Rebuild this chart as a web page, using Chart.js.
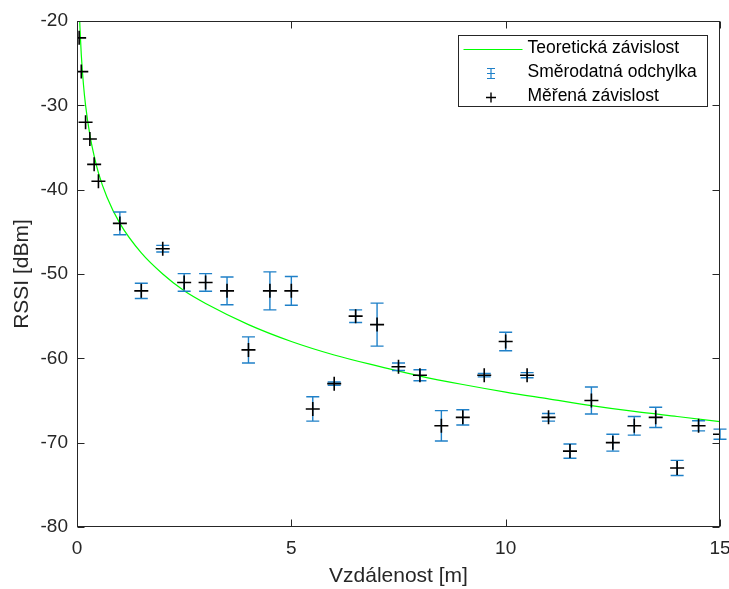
<!DOCTYPE html>
<html>
<head>
<meta charset="utf-8">
<script src="https://cdn.jsdelivr.net/npm/chart.js@4.4.0/dist/chart.umd.min.js"></script>
<style>
  html, body { margin: 0; padding: 0; background: #fff; }
  #wrap { width: 729px; height: 589px; }
</style>
</head>
<body>
<div id="wrap"><canvas id="rssiChart" width="729" height="589"></canvas></div>
<script>
// measured distances [m]
const distances = [0.05, 0.1, 0.2, 0.3, 0.4, 0.5, 1, 1.5, 2, 2.5, 3, 3.5, 4, 4.5, 5, 5.5, 6, 6.5, 7, 7.5,
    8, 8.5, 9, 9.5, 10, 10.5, 11, 11.5, 12, 12.5, 13, 13.5, 14, 14.5, 15];
// mean RSSI at each distance [dBm]
const rssiMeasured = [-22, -26, -32, -34, -37, -39, -44, -52, -47, -51, -51, -52, -59, -52, -52, -66, -63, -55, -56, -61,
    -62, -68, -67, -62, -58, -62, -67, -71, -65, -70, -68, -67, -73, -68, -69];
// standard deviation of the RSSI (error bars)
const rssiStd = [0, 0, 0, 0, 0, 0, 1.35, 0.9, 0.4, 1.05, 1.05, 1.65, 1.55, 2.25, 1.7, 1.45, 0.2, 0.75, 2.55, 0.45,
    0.65, 1.8, 0.9, 0.2, 1.1, 0.3, 0.45, 0.85, 1.6, 1.0, 1.1, 1.2, 0.9, 0.6, 0.6];

// theoretical curve
const theoryDistance = [0.063, 0.07, 0.1, 0.15, 0.2, 0.3, 0.4, 0.5, 0.7, 1, 1.5, 2, 2.5, 3, 4, 5, 6, 7, 8, 9, 10, 11, 12, 13, 14, 15];
const theoryRssi = [-20, -20.9, -24, -27.5, -30, -33.5, -36, -38, -40.9, -44, -47.5, -50, -52, -53.5, -56, -58, -59.6,
    -60.9, -62.1, -63.1, -64, -64.8, -65.6, -66.3, -66.9, -67.5];

// tick labels
const xTickValues = [0, 5, 10, 15];
const yTickValues = [-80, -70, -60, -50, -40, -30, -20];

// legend names
const theoryLabel = 'Teoretická závislost';
const stdLabel = 'Směrodatná odchylka';
const measuredLabel = 'Měřená závislost';

const axisColor = '#262626';
const stdColor = '#1f80c8';
const theoryColor = '#00ff00';

Chart.defaults.font.family = '"Liberation Sans", Arial, Helvetica, sans-serif';

//draws the blue error bars just before the crosses
const errorBarPlugin = {
    id: 'errorBars',
    beforeDatasetDraw(chart, args) {
        if (args.index !== 1) return;
        const ctx = chart.ctx;
        const x = chart.scales.x;
        const y = chart.scales.y;
        ctx.save();
        ctx.strokeStyle = stdColor;
        ctx.lineWidth = 1.4;
        distances.forEach((d, i) => {
            const s = rssiStd[i];
            if (!s) return;
            const px = x.getPixelForValue(d);
            const top = y.getPixelForValue(rssiMeasured[i] + s);
            const bot = y.getPixelForValue(rssiMeasured[i] - s);
            ctx.beginPath();
            ctx.moveTo(px, top);
            ctx.lineTo(px, bot);
            ctx.moveTo(px - 6.5, top);
            ctx.lineTo(px + 6.5, top);
            ctx.moveTo(px - 6.5, bot);
            ctx.lineTo(px + 6.5, bot);
            ctx.stroke();
        });
        ctx.restore();
    }
};

//matlab style box with ticks pointing inside
const axesBoxPlugin = {
    id: 'axesBox',
    afterDatasetsDraw(chart) {
        const ctx = chart.ctx;
        const area = chart.chartArea;
        const x = chart.scales.x;
        const y = chart.scales.y;
        const l = Math.round(area.left) + 0.5;
        const r = Math.round(area.right) - 0.5;
        const t = Math.round(area.top) + 0.5;
        const b = Math.round(area.bottom) - 0.5;
        ctx.save();
        ctx.strokeStyle = axisColor;
        ctx.lineWidth = 1;
        ctx.strokeRect(l, t, r - l, b - t);
        ctx.beginPath();
        xTickValues.forEach(v => {
            const px = Math.round(x.getPixelForValue(v)) + 0.5;
            ctx.moveTo(px, b);
            ctx.lineTo(px, b - 7);
            ctx.moveTo(px, t);
            ctx.lineTo(px, t + 7);
        });
        yTickValues.forEach(v => {
            const py = Math.round(y.getPixelForValue(v)) + 0.5;
            ctx.moveTo(l, py);
            ctx.lineTo(l + 7, py);
            ctx.moveTo(r, py);
            ctx.lineTo(r - 7, py);
        });
        ctx.stroke();
        ctx.restore();
    }
};

//legend box in the top right corner
const legendBoxPlugin = {
    id: 'legendBox',
    afterDraw(chart) {
        const ctx = chart.ctx;
        const area = chart.chartArea;
        const boxR = Math.round(area.right) - 12.5;
        const boxL = boxR - 249;
        const boxT = Math.round(area.top) + 14.5;
        const rows = [boxT + 13, boxT + 37, boxT + 61];
        const iconX = boxL + 32.5;
        const textX = boxL + 69;

        ctx.save();
        ctx.fillStyle = '#fff';
        ctx.fillRect(boxL, boxT, boxR - boxL, 71);
        ctx.strokeStyle = axisColor;
        ctx.lineWidth = 1;
        ctx.strokeRect(boxL, boxT, boxR - boxL, 71);

        // green line
        ctx.strokeStyle = theoryColor;
        ctx.beginPath();
        ctx.moveTo(boxL + 5, Math.round(rows[0]) + 0.5);
        ctx.lineTo(boxL + 64, Math.round(rows[0]) + 0.5);
        ctx.stroke();

        // error bar icon
        const ey = Math.round(rows[1]) + 0.5;
        ctx.strokeStyle = stdColor;
        ctx.lineWidth = 1.2;
        ctx.beginPath();
        ctx.moveTo(iconX, ey - 5);
        ctx.lineTo(iconX, ey + 5);
        ctx.moveTo(iconX - 4, ey - 5);
        ctx.lineTo(iconX + 4, ey - 5);
        ctx.moveTo(iconX - 4, ey + 5);
        ctx.lineTo(iconX + 4, ey + 5);
        ctx.moveTo(iconX - 4, ey);
        ctx.lineTo(iconX + 4, ey);
        ctx.stroke();

        // cross icon
        const cy = Math.round(rows[2]) + 0.5;
        ctx.strokeStyle = '#000';
        ctx.lineWidth = 1.4;
        ctx.beginPath();
        ctx.moveTo(iconX - 5, cy);
        ctx.lineTo(iconX + 5, cy);
        ctx.moveTo(iconX, cy - 5);
        ctx.lineTo(iconX, cy + 5);
        ctx.stroke();

        ctx.fillStyle = '#000';
        ctx.font = '17.5px "Liberation Sans", Arial, sans-serif';
        ctx.textBaseline = 'middle';
        ctx.textAlign = 'left';
        ctx.fillText(theoryLabel, textX, rows[0]);
        ctx.fillText(stdLabel, textX, rows[1]);
        ctx.fillText(measuredLabel, textX, rows[2]);
        ctx.restore();
    }
};

const tickFont = { size: 19 };
const titleFont = { size: 21 };

new Chart(document.getElementById('rssiChart'), {
    type: 'scatter',
    data: {
        datasets: [{
            type: 'line',
            label: theoryLabel,
            data: theoryDistance.map((d, i) => ({ x: d, y: theoryRssi[i] })),
            borderColor: theoryColor,
            borderWidth: 1.2,
            pointRadius: 0,
            cubicInterpolationMode: 'monotone',
            fill: false,
            order: 2
        }, {
            label: measuredLabel,
            data: distances.map((d, i) => ({ x: d, y: rssiMeasured[i] })),
            pointStyle: 'cross',
            pointRadius: 7,
            borderColor: '#000',
            backgroundColor: '#000',
            borderWidth: 1.6,
            order: 1
        }]
    },
    options: {
        responsive: false,
        animation: false,
        devicePixelRatio: 1,
        layout: { padding: { top: 21, right: 9, left: 0, bottom: 0 } },
        plugins: {
            legend: { display: false },
            tooltip: { enabled: false }
        },
        scales: {
            x: {
                type: 'linear',
                min: 0,
                max: 15,
                afterBuildTicks: s => { s.ticks = xTickValues.map(v => ({ value: v })); },
                afterFit: s => { s.height = 62; s.paddingLeft = 0; s.paddingRight = 0; },
                grid: { display: false, drawTicks: false },
                border: { display: false },
                ticks: { padding: 10, color: axisColor, font: tickFont, maxRotation: 0 },
                title: { display: true, text: 'Vzdálenost [m]', color: axisColor, font: titleFont, padding: { top: 0, bottom: 0 } }
            },
            y: {
                type: 'linear',
                min: -80,
                max: -20,
                afterBuildTicks: s => { s.ticks = yTickValues.map(v => ({ value: v })); },
                afterFit: s => { s.width = 77; s.paddingTop = 0; s.paddingBottom = 0; },
                grid: { display: false, drawTicks: false },
                border: { display: false },
                ticks: { padding: 9, color: axisColor, font: tickFont },
                title: { display: true, text: 'RSSI [dBm]', color: axisColor, font: titleFont, padding: { top: 10, bottom: 0 } }
            }
        }
    },
    plugins: [errorBarPlugin, axesBoxPlugin, legendBoxPlugin]
});
</script>
</body>
</html>
